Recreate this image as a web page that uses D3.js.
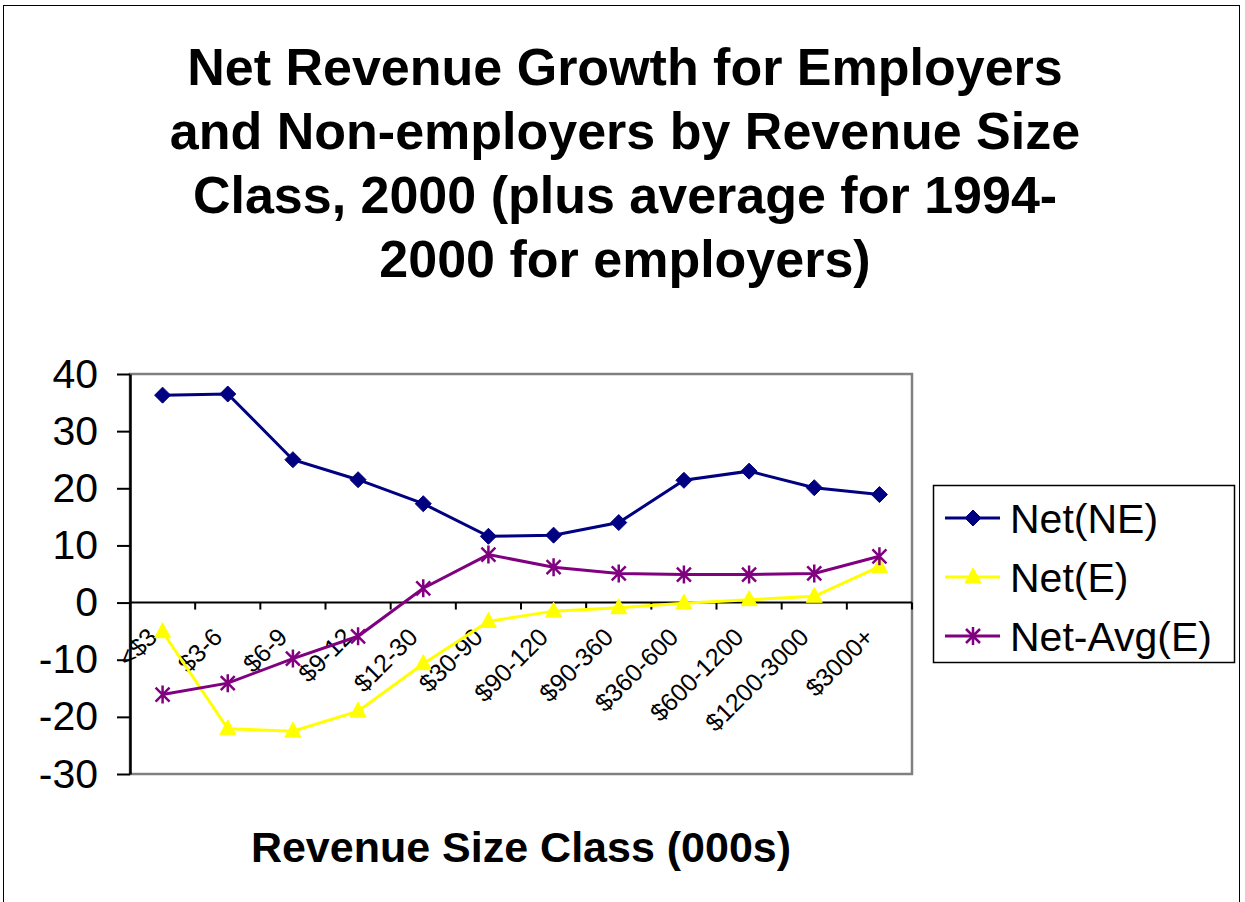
<!DOCTYPE html>
<meta charset="utf-8">
<script src="https://d3js.org/d3.v7.min.js"></script>
<style>
  body { margin: 0; background: #fff; }
  text { font-family: "Liberation Sans", Arial, sans-serif; }
</style>
<body>
<div id="my_dataviz"></div>
<script>

// data
var categories = ["<$3", "$3-6", "$6-9", "$9-12", "$12-30", "$30-90", "$90-120",
                  "$90-360", "$360-600", "$600-1200", "$1200-3000", "$3000+"];
var netNE    = [36.3, 36.5, 25.0, 21.5, 17.3, 11.6, 11.8, 14.0, 21.4, 23.0, 20.1, 18.9];
var netE     = [-5.1, -22.1, -22.5, -19.0, -10.7, -3.3, -1.5, -0.9, -0.1, 0.5, 1.1, 6.3];
var netAvgE  = [-16.1, -14.1, -9.8, -5.9, 2.5, 8.4, 6.2, 5.1, 4.9, 4.9, 5.1, 8.1];
var yTicks   = [-30, -20, -10, 0, 10, 20, 30, 40];
var seriesNames = ["Net(NE)", "Net(E)", "Net-Avg(E)"];
var titleLines = ["Net Revenue Growth for Employers",
                  "and Non-employers by Revenue Size",
                  "Class, 2000 (plus average for 1994-",
                  "2000 for employers)"];

var W = 1245, H = 902;
var plot = {left: 130, right: 912, top: 374, bottom: 774};

var svg = d3.select("#my_dataviz")
  .append("svg")
    .attr("width", W)
    .attr("height", H);

svg.append("rect")
  .attr("x", 0).attr("y", 0).attr("width", W).attr("height", H)
  .attr("fill", "#fff");

// outer chart frame
svg.append("rect")
  .attr("x", 3.5).attr("y", 5.5).attr("width", 1236).attr("height", 910)
  .attr("fill", "none").attr("stroke", "#000").attr("stroke-width", 1);

// title
svg.append("text")
  .attr("text-anchor", "middle")
  .attr("font-weight", "bold")
  .attr("font-size", "52px")
  .selectAll("tspan")
  .data(titleLines)
  .enter().append("tspan")
    .attr("x", 625)
    .attr("y", function(d, i) { return 85 + i * 64; })
    .text(function(d) { return d; });

var x = d3.scaleBand()
  .domain(categories)
  .range([plot.left, plot.right])
  .padding(0);
var cx = function(d) { return x(d) + x.bandwidth() / 2; };

var y = d3.scaleLinear()
  .domain([-30, 40])
  .range([plot.bottom, plot.top]);

// plot area frame
svg.append("rect")
  .attr("x", plot.left).attr("y", plot.top)
  .attr("width", plot.right - plot.left).attr("height", plot.bottom - plot.top)
  .attr("fill", "none").attr("stroke", "#808080").attr("stroke-width", 2.5);

// y axis
var yAxis = svg.append("g")
  .attr("transform", "translate(" + plot.left + ",0)")
  .call(d3.axisLeft(y).tickValues(yTicks).tickSize(13).tickPadding(19).tickSizeOuter(0)
        .tickFormat(function(d) { return String(d); }));
yAxis.select(".domain").attr("stroke", "#000").attr("stroke-width", 2.5);
yAxis.selectAll(".tick line").attr("stroke", "#000").attr("stroke-width", 2);
yAxis.selectAll(".tick text")
  .attr("font-size", "41px")
  .attr("font-family", "'Liberation Sans', Arial, sans-serif")
  .attr("fill", "#000");

// x axis along zero, ticks between categories
var xAxisG = svg.append("g");
xAxisG.append("line")
  .attr("x1", plot.left).attr("x2", plot.right)
  .attr("y1", y(0)).attr("y2", y(0))
  .attr("stroke", "#000").attr("stroke-width", 2);
var bounds = categories.map(function(d) { return x(d); }).concat([x(categories[categories.length - 1]) + x.bandwidth()]);
xAxisG.selectAll("line.tk")
  .data(bounds)
  .enter().append("line")
    .attr("class", "tk")
    .attr("x1", function(d) { return d; }).attr("x2", function(d) { return d; })
    .attr("y1", y(0)).attr("y2", y(0) + 7)
    .attr("stroke", "#000").attr("stroke-width", 2);
xAxisG.selectAll("text")
  .data(categories)
  .enter().append("text")
    .attr("text-anchor", "end")
    .attr("font-size", "25px")
    .attr("transform", function(d) {
      return "translate(" + (cx(d) - 4) + "," + (y(0) + 36) + ") rotate(-45)";
    })
    .text(function(d) { return d; });

// axis title
svg.append("text")
  .attr("x", 521).attr("y", 862)
  .attr("text-anchor", "middle")
  .attr("font-weight", "bold")
  .attr("font-size", "43px")
  .text("Revenue Size Class (000s)");

// series
var series = [
  {name: seriesNames[0], values: netNE,   color: "#000080", marker: "diamond"},
  {name: seriesNames[1], values: netE,    color: "#FFFF00", marker: "triangle"},
  {name: seriesNames[2], values: netAvgE, color: "#800080", marker: "star"}
];

function drawMarker(g, type, color) {
  if (type === "diamond") {
    g.append("path")
      .attr("d", "M0,-8L8,0L0,8L-8,0Z")
      .attr("fill", color).attr("stroke", color).attr("stroke-width", 1);
  } else if (type === "triangle") {
    g.append("path")
      .attr("d", "M0,-9L8,6L-8,6Z")
      .attr("fill", color).attr("stroke", color).attr("stroke-width", 1);
  } else {
    g.append("path")
      .attr("d", "M-7,-7L7,7M-7,7L7,-7M0,-9L0,9")
      .attr("fill", "none").attr("stroke", color).attr("stroke-width", 2.5);
  }
}

var line = d3.line()
  .x(function(d, i) { return cx(categories[i]); })
  .y(function(d) { return y(d); });

series.forEach(function(s) {
  svg.append("path")
    .datum(s.values)
    .attr("d", line)
    .attr("fill", "none")
    .attr("stroke", s.color)
    .attr("stroke-width", 3);
});
series.forEach(function(s) {
  s.values.forEach(function(v, i) {
    var g = svg.append("g")
      .attr("transform", "translate(" + cx(categories[i]) + "," + y(v) + ")");
    drawMarker(g, s.marker, s.color);
  });
});

// legend
var legend = svg.append("g");
legend.append("rect")
  .attr("x", 933.5).attr("y", 485.5).attr("width", 301).attr("height", 177)
  .attr("fill", "#fff").attr("stroke", "#000").attr("stroke-width", 1.5);
series.forEach(function(s, i) {
  var ly = 518 + i * 59;
  legend.append("line")
    .attr("x1", 945).attr("x2", 1000).attr("y1", ly).attr("y2", ly)
    .attr("stroke", s.color).attr("stroke-width", 3);
  var g = legend.append("g").attr("transform", "translate(973," + ly + ")");
  drawMarker(g, s.marker, s.color);
  legend.append("text")
    .attr("x", 1010).attr("y", ly + 15)
    .attr("font-size", "41px")
    .text(s.name);
});

</script>
</body>
